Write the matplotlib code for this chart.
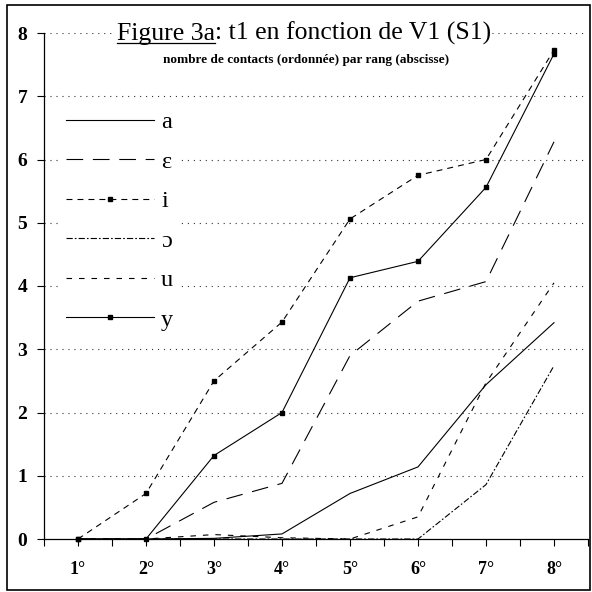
"""
Figure 3a: t1 en fonction de V1 (S1), redrawn with matplotlib.

Output:
  - out.png
"""

from __future__ import annotations

import matplotlib

matplotlib.use("Agg")

import matplotlib.pyplot as plt
from matplotlib.lines import Line2D
from matplotlib.patches import Rectangle

OUT_PNG = "out.png"

RANKS = ["1°", "2°", "3°", "4°", "5°", "6°", "7°", "8°"]
LABELS = ["a", "ε", "i", "ɔ", "u", "y"]

A = [0, 0, 0.01, 0.08, 0.72, 1.14, 2.44, 3.42]
EPS = [0, 0, 0.58, 0.88, 2.90, 3.76, 4.07, 6.28]
I = [0, 0.72, 2.50, 3.43, 5.06, 5.75, 6.00, 7.73]
OO = [0, 0, 0, 0, 0, 0, 0.86, 2.74]
U = [0, 0, 0.07, 0.02, 0, 0.35, 2.47, 4.05]
Y = [0, 0, 1.32, 2.00, 4.13, 4.39, 5.56, 7.67]

TITLE_U = "Figure 3a"
TITLE_REST = ": t1 en fonction de V1 (S1)"
SUBTITLE = "nombre de contacts (ordonnée) par rang (abscisse)"

SERIF = ["Liberation Serif", "DejaVu Serif"]


def main() -> int:
    plt.rcParams["font.family"] = SERIF
    plt.rcParams["lines.scale_dashes"] = False

    fig = plt.figure(figsize=(5.92, 5.92), dpi=100)
    W = H = 592.0
    ax = fig.add_axes([44 / W, 1 - 539 / H, (588 - 44) / W, (539 - 33) / H])

    xs = list(range(1, len(RANKS) + 1))
    lw = 0.8
    series = [
        (A, dict(ls="-")),
        (EPS, dict(dashes=(12, 7))),
        (I, dict(dashes=(4.3, 3.6), marker="s", ms=3.2)),
        (OO, dict(dashes=(4.5, 1.5, 1.2, 1.5))),
        (U, dict(dashes=(4, 5))),
        (Y, dict(ls="-", marker="s", ms=3.2)),
    ]
    for (vals, style), lab in zip(series, LABELS):
        ax.plot(xs, vals, color="black", lw=lw, label=lab, clip_on=False, **style)

    ax.set_xlim(0.5, 8.5)
    ax.set_ylim(0, 8)
    ax.set_xticks(xs)
    ax.set_xticklabels(RANKS, fontsize=13, fontweight="bold")
    ax.set_xticks([x + 0.5 for x in range(0, 9)], minor=True)
    ax.set_yticks(range(0, 9))
    ax.set_yticklabels([str(v) for v in range(0, 9)], fontsize=14, fontweight="bold")
    ax.tick_params(axis="x", which="both", direction="out", length=5, width=0.8)
    ax.tick_params(axis="x", which="major", pad=11)
    ax.tick_params(axis="y", direction="out", length=5, width=0.8, pad=7)

    for s in ("top", "right"):
        ax.spines[s].set_visible(False)
    ax.spines["left"].set_linewidth(0.9)
    ax.spines["bottom"].set_linewidth(0.9)

    for v in range(1, 9):
        ax.axhline(v, color="#333333", lw=0.8, dashes=(0.8, 3.5), zorder=0.5)

    leg = ax.legend(
        loc="upper left",
        bbox_to_anchor=(59 / W, 1 - 104 / H),
        bbox_transform=fig.transFigure,
        borderaxespad=0,
        borderpad=0.3,
        fontsize=17.5,
        handlelength=3.6,
        handletextpad=0.3,
        labelspacing=0.72,
        numpoints=1,
        frameon=True,
        fancybox=False,
    )
    leg.get_frame().set_facecolor("white")
    leg.get_frame().set_edgecolor("none")
    leg.get_frame().set_alpha(1)

    # title: underlined "Figure 3a" followed by the rest, centred as one line
    r = fig.canvas.get_renderer()
    ybase = 1 - 40 / H
    t1 = fig.text(0, ybase, TITLE_U, fontsize=18.5, va="baseline",
                  bbox=dict(facecolor="white", edgecolor="none", pad=1))
    t2 = fig.text(0, ybase, TITLE_REST, fontsize=18.5, va="baseline",
                  bbox=dict(facecolor="white", edgecolor="none", pad=1))
    w1 = t1.get_window_extent(r).width / W
    w2 = t2.get_window_extent(r).width / W
    x0 = 304 / W - (w1 + w2) / 2
    t1.set_x(x0)
    t2.set_x(x0 + w1)
    fig.add_artist(Line2D([x0, x0 + w1], [ybase - 2.5 / H] * 2, color="black",
                          lw=0.9, transform=fig.transFigure, zorder=5))
    fig.text(306 / W, 1 - 63 / H, SUBTITLE, fontsize=9.5, fontweight="bold",
             ha="center", va="baseline")

    fig.add_artist(Rectangle((7 / W, 2 / H), 583 / W, 585 / H, fill=False,
                             edgecolor="black", lw=1.2, transform=fig.transFigure))

    fig.savefig(OUT_PNG, dpi=100)
    plt.close(fig)
    return 0


if __name__ == "__main__":
    raise SystemExit(main())
